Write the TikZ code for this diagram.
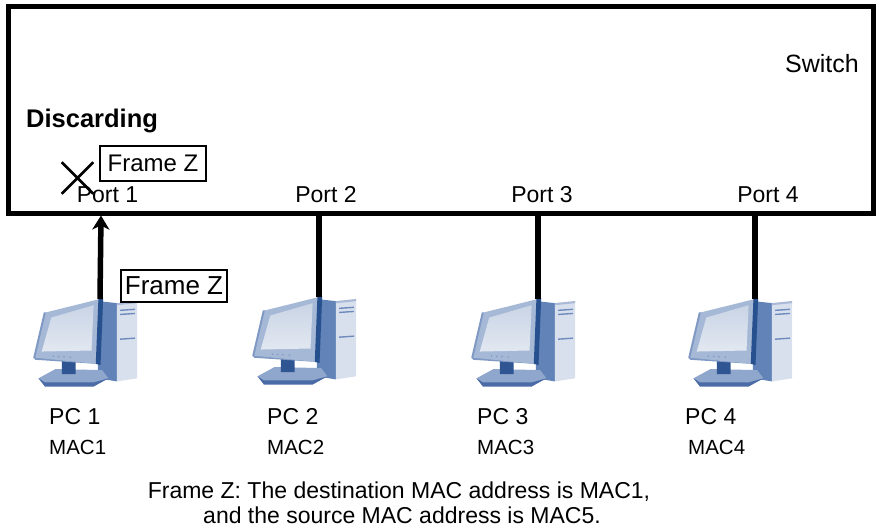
\documentclass[tikz,border=0pt]{standalone}
\usepackage{fontspec}
\setmainfont{Liberation Sans}
\usetikzlibrary{arrows.meta,shapes.misc}

\definecolor{bezelcol}{HTML}{A5B8D6}
\definecolor{bezeldark}{HTML}{7F99C4}
\definecolor{screencol}{HTML}{E2E8F1}
\definecolor{screenshade}{HTML}{C9D4E5}
\definecolor{stripecol}{HTML}{27508F}
\definecolor{towerside}{HTML}{6283B8}
\definecolor{towerfront}{HTML}{D8E0ED}
\definecolor{slotcol}{HTML}{6F8BBD}
\definecolor{neckcol}{HTML}{2F5593}
\definecolor{basecol}{HTML}{8FA7CD}
\definecolor{baseedge}{HTML}{4A6BA6}

\tikzset{
  fs/.style={font=\fontsize{#1}{#1}\selectfont},
  switchbox/.style={draw=black, line width=5pt},
  link/.style={line width=5.5pt, black},
  framebox/.style={draw=black, line width=1.3pt, inner sep=3pt, fs=#1},
  portlabel/.style={anchor=base, fs=23, inner sep=0pt},
  pclabel/.style={anchor=base west, fs=23, inner sep=0pt},
  maclabel/.style={anchor=base west, fs=20.5, inner sep=0pt},
  caption/.style={anchor=base, fs=23, inner sep=0pt},
  % desktop computer: monitor in front, tower behind; origin is the monitor's top-right corner
  pcicon/.pic={
    \begin{scope}[xscale=1.06, yscale=1.03]
    \fill[towerside] (-2,2) -- (16,4) -- (16,80) -- (-2,77) -- cycle;
    \fill[towerfront] (16,4) -- (35,2) -- (35,77) -- (16,80) -- cycle;
    \fill[slotcol!60] (16,4) -- (35,2) -- (35,4) -- (16,6) -- cycle;
    \draw[slotcol, line width=1.4pt] (19,11) -- (33,10) (19,15) -- (33,14) (19,39) -- (33,38);
    \fill[basecol] (-58,77) -- (-42,68) -- (2,69) -- (8,77) -- (-6,84) -- (-52,84) -- cycle;
    \fill[baseedge] (-58,77) -- (-52,81) -- (-6,81) -- (8,77) -- (-6,85) -- (-52,85) -- cycle;
    \fill[neckcol] (-36,58) -- (-23,60) -- (-23,73) -- (-36,73) -- cycle;
    \fill[bezeldark] (-53,13) -- (-51,13) -- (-3,63) -- (-61,59) -- (-63,57) -- cycle;
    \fill[bezelcol] (-51,13) -- (0,0) -- (-3,63) -- (-61,57) -- cycle;
    \fill[stripecol] (-1.5,0) -- (3,-1) -- (0.5,64) -- (-4,63) -- cycle;
    \shade[top color=screenshade, bottom color=screencol] (-46,18) -- (-6,6) -- (-8,50) -- (-55,51) -- cycle;
    \fill[bezeldark] (-44,55.5) circle (0.8) (-39,55.8) circle (0.8) (-34,56.1) circle (0.8) (-28,56.4) circle (0.8);
    \end{scope}
    \coordinate (-top) at (0,0);
  }
}

\begin{document}
\begin{tikzpicture}[x=1pt, y=-1pt]
  \useasboundingbox (0,0) rectangle (877,531);
  \fill[white] (0,0) rectangle (877,531);

  % computers
  \pic (pc1) at (100,299) {pcicon};
  \pic (pc2) at (319,297) {pcicon};
  \pic (pc3) at (538,299) {pcicon};
  \pic (pc4) at (755,299) {pcicon};

  % port attachment points on the lower edge of the switch
  \coordinate (p1) at (101,215.5);
  \coordinate (p2) at (319,213);
  \coordinate (p3) at (538,213);
  \coordinate (p4) at (755,213);

  % links
  \draw[link] (pc2-top) -- (p2);
  \draw[link] (pc3-top) -- (p3);
  \draw[link] (pc4-top) -- (p4);

  % switch
  \node[switchbox, minimum width=864.5pt, minimum height=206.5pt, inner sep=0pt] (sw) at (440.75,109.75) {};
  \node[anchor=base, fs=25, inner sep=0pt] (swname) at (822,72.5) {Switch};
  \node[anchor=base west, inner sep=0pt, font=\fontsize{25.5}{25.5}\selectfont\bfseries] (disc) at (26,127.5) {Discarding};

  \node[portlabel] (port1) at (107.5,202) {Port 1};
  \node[portlabel] (port2) at (326,202) {Port 2};
  \node[portlabel] (port3) at (542,202) {Port 3};
  \node[portlabel] (port4) at (768,202) {Port 4};

  % frame Z arriving at port 1 and being dropped
  \draw[link, -{Stealth[length=14pt, width=17pt, inset=4pt]}] (pc1-top) -- (p1);
  \node[framebox=26, minimum width=106pt, minimum height=32pt] (frameout) at (174,286) {Frame Z};
  \node[framebox=24, minimum width=106pt, minimum height=35pt] (framein) at (153,163.5) {Frame Z};
  \node[draw=black, cross out, line width=2.6pt, minimum size=29pt, inner sep=0pt] (drop) at (77.5,178) {};

  % computer labels
  \node[pclabel] (pc1name) at (49,424.5) {PC 1};
  \node[pclabel] (pc2name) at (267,424.5) {PC 2};
  \node[pclabel] (pc3name) at (477,424.5) {PC 3};
  \node[pclabel] (pc4name) at (685,424.5) {PC 4};
  \node[maclabel] (mac1) at (49,454) {MAC1};
  \node[maclabel] (mac2) at (267,454) {MAC2};
  \node[maclabel] (mac3) at (477,454) {MAC3};
  \node[maclabel] (mac4) at (688,454) {MAC4};

  % legend
  \node[caption] (cap1) at (399,498) {Frame Z: The destination MAC address is MAC1,};
  \node[caption] (cap2) at (402,523) {and the source MAC address is MAC5.};
\end{tikzpicture}
\end{document}
